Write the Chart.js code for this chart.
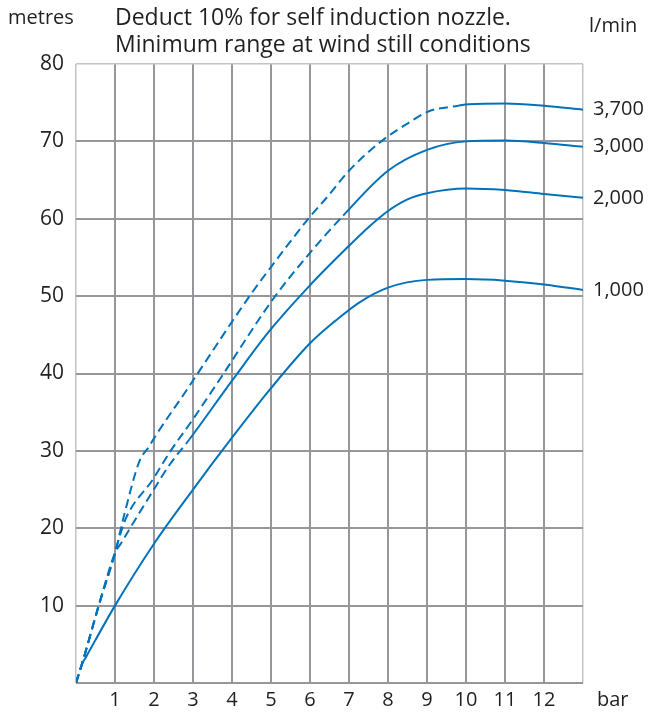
<!DOCTYPE html>
<html>
<head>
<meta charset="utf-8">
<script src="https://cdn.jsdelivr.net/npm/chart.js@4"></script>
<style>
    body { margin: 0; background: #fff; }
    #wrap { width: 664px; height: 713px; position: relative; }
</style>
</head>
<body>
<div id="wrap"><canvas id="rangeChart"></canvas></div>
<script>
// nozzle flow rates (l/min)
const flowLabels = ["3,700", "3,000", "2,000", "1,000"];

// pressure (bar) / throw range (metres)
const bar3700 = [0, 0.15, 0.6, 1.0, 1.24, 1.63, 1.88, 2.01, 2.91, 3.08, 4.45, 5.05, 5.94, 6.49, 7.0, 7.85, 8.53, 9.05, 9.8, 10.07, 11, 12, 13];
const range3700 = [0, 2.4, 10.3, 16.8, 21.8, 28.7, 30.6, 31.7, 38.4, 39.7, 50.0, 54.1, 59.9, 63.1, 66.2, 70.1, 72.4, 73.9, 74.6, 74.8, 74.9, 74.6, 74.1];

const bar3000 = [0, 0.15, 0.6, 1.0, 1.07, 1.29, 1.97, 2.4, 3.0, 3.68, 5.05, 6.0, 6.85, 8, 9, 10, 11, 12, 13];
const range3000 = [0, 2.4, 10.3, 16.8, 18.1, 21.4, 26.3, 29.8, 34.1, 39.2, 49.6, 55.6, 60.4, 66.2, 68.9, 70.0, 70.1, 69.8, 69.3];

const bar2000 = [0, 0.15, 0.6, 1.0, 1.16, 1.42, 1.97, 2.4, 2.91, 4.02, 4.96, 5.98, 7, 7.5, 8, 8.5, 9, 10, 11, 12, 13];
const range2000 = [0, 2.4, 10.3, 16.8, 18.1, 20.3, 24.8, 28.2, 31.5, 39.2, 45.5, 51.3, 56.5, 58.9, 61.0, 62.5, 63.3, 63.9, 63.7, 63.2, 62.7];

const bar1000 = [0, 0.15, 0.25, 1, 2, 3, 4, 5, 6, 6.65, 7.27, 8, 9, 10, 11, 12, 13];
const range1000 = [0, 2.4, 3.3, 10, 18.0, 25.0, 31.7, 38.1, 43.9, 46.8, 49.2, 51.1, 52.1, 52.2, 52.0, 51.5, 50.8];

// below this pressure the curve is drawn dashed
const dashedUntil = [9.8, 6.85, 2.91, 0.15];

const barTicks = [1, 2, 3, 4, 5, 6, 7, 8, 9, 10, 11, 12];
const metreTicks = [10, 20, 30, 40, 50, 60, 70, 80];

const blue = "rgb(0, 114, 187)";
const gridGrey = "rgb(150, 151, 155)";
const frameGrey = "rgb(195, 195, 198)";
const textColor = "#231f20";

function toPoints(xs, ys) {
    return xs.map((x, i) => ({ x: x, y: ys[i] }));
}

function makeSeries(label, xs, ys, dashEnd) {
    return {
        label: label,
        data: toPoints(xs, ys),
        borderColor: blue,
        borderWidth: 2,
        pointRadius: 0,
        cubicInterpolationMode: "monotone",
        fill: false,
        segment: {
            borderDash: (c) => (c.p1.parsed.x <= dashEnd + 0.001 ? [9, 5] : undefined),
        },
    };
}

const textPlugin = {
    id: "textPlugin",
    afterDraw(chart) {
        const c = chart.ctx;
        const area = chart.chartArea;
        const yScale = chart.scales.y;
        c.save();
        c.fillStyle = textColor;
        c.textBaseline = "middle";
        c.textAlign = "left";

        c.font = '23px "Open Sans"';
        c.fillText("Deduct 10% for self induction nozzle.", 115, 18);
        c.fillText("Minimum range at wind still conditions", 115, 45);

        c.font = '20px "Open Sans"';
        c.fillText("metres", 8, 18);
        c.fillText("l/min", 589, 26);
        c.fillText("bar", 597, 700);

        chart.data.datasets.forEach((ds) => {
            const last = ds.data[ds.data.length - 1];
            c.fillText(ds.label, area.right + 10, yScale.getPixelForValue(last.y));
        });
        c.restore();
    },
};

const ctx = document.getElementById("rangeChart").getContext("2d");
const myChart = new Chart(ctx, {
    type: "line",
    data: {
        datasets: [
            makeSeries(flowLabels[0], bar3700, range3700, dashedUntil[0]),
            makeSeries(flowLabels[1], bar3000, range3000, dashedUntil[1]),
            makeSeries(flowLabels[2], bar2000, range2000, dashedUntil[2]),
            makeSeries(flowLabels[3], bar1000, range1000, dashedUntil[3]),
        ],
    },
    options: {
        responsive: true,
        maintainAspectRatio: false,
        animation: false,
        layout: {
            padding: { top: 64, right: 81, left: 0, bottom: 0 },
        },
        plugins: {
            legend: { display: false },
            tooltip: { enabled: false },
        },
        scales: {
            x: {
                type: "linear",
                min: 0,
                max: 13,
                afterFit: (s) => { s.height = 30; },
                border: { display: false },
                grid: {
                    drawTicks: false,
                    color: (c) => (c.tick.value === 0 || c.tick.value === 13 ? frameGrey : gridGrey),
                    lineWidth: (c) => (c.tick.value === 0 || c.tick.value === 13 ? 1.5 : 2),
                },
                ticks: {
                    stepSize: 1,
                    padding: 5,
                    color: textColor,
                    font: { family: "Open Sans", size: 20 },
                    maxRotation: 0,
                    autoSkip: false,
                    callback: (v) => (barTicks.includes(v) ? String(v) : ""),
                },
            },
            y: {
                min: 0,
                max: 80,
                afterFit: (s) => { s.width = 76; },
                border: { display: false },
                grid: {
                    drawTicks: false,
                    color: (c) => (c.tick.value === 80 ? frameGrey : gridGrey),
                    lineWidth: (c) => (c.tick.value === 80 ? 1.5 : 2),
                },
                ticks: {
                    stepSize: 10,
                    padding: 12,
                    color: textColor,
                    font: { family: "Open Sans", size: 21 },
                    callback: (v) => (metreTicks.includes(v) ? String(v) : ""),
                },
            },
        },
    },
    plugins: [textPlugin],
});
</script>
</body>
</html>
